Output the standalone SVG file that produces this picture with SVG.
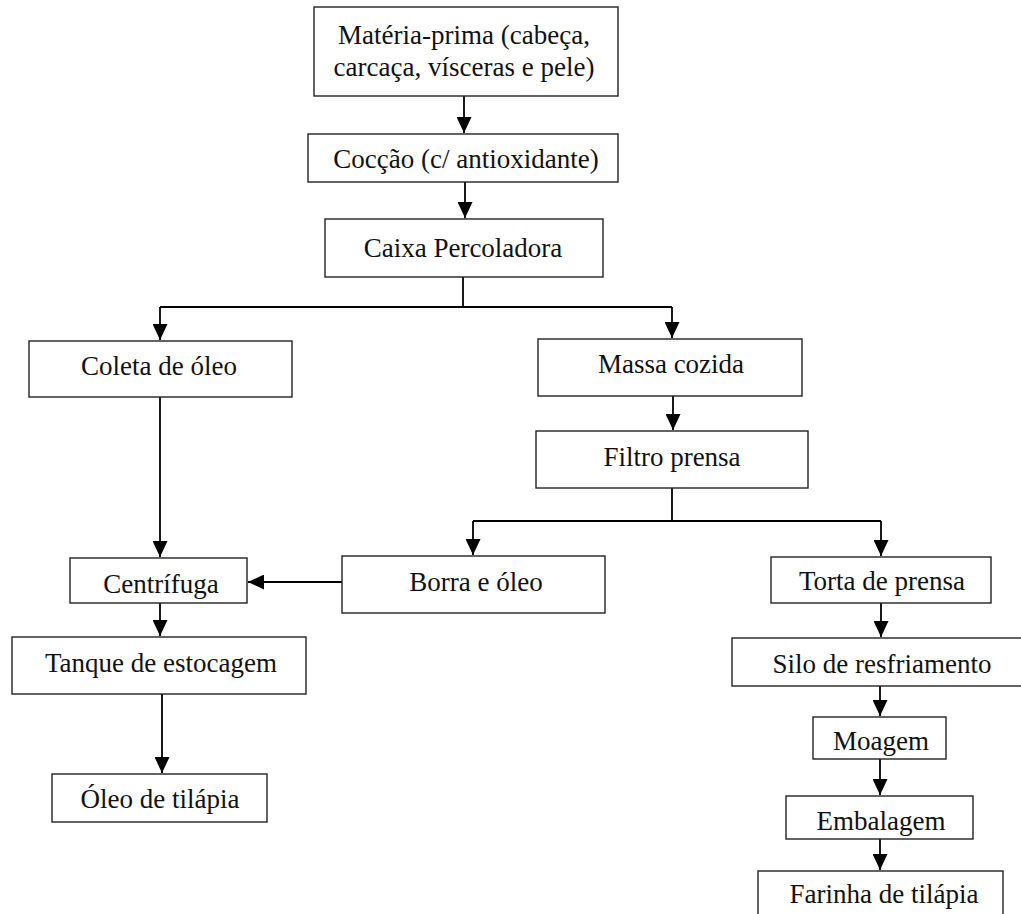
<svg xmlns="http://www.w3.org/2000/svg" width="1021" height="914" viewBox="0 0 1021 914">
  <defs>
    <style>
      .box { fill: #ffffff; stroke: #222222; stroke-width: 1.4; }
      .lbl { font-family: "Liberation Serif", "Times New Roman", serif; font-size: 27px; fill: #111111; text-anchor: middle; }
      .wire { fill: none; stroke: #000000; stroke-width: 1.8; }
      .flow { fill: none; stroke: #000000; stroke-width: 1.8; marker-end: url(#arrow); }
    </style>
    <marker id="arrow" markerUnits="userSpaceOnUse" markerWidth="17" markerHeight="15" refX="16" refY="7.5" orient="auto">
      <path d="M0,0 L16,7.5 L0,15 Z" fill="#000000"/>
    </marker>
  </defs>
  <rect width="1021" height="914" fill="#ffffff"/>

  <!-- connectors -->
  <g id="connectors">
    <line class="flow" x1="464" y1="96" x2="464" y2="133"/>
    <line class="flow" x1="465" y1="182" x2="465" y2="218"/>
    <polyline class="wire" points="463,277 463,307"/>
    <polyline class="wire" points="160,307 672,307"/>
    <line class="flow" x1="160" y1="307" x2="160" y2="340"/>
    <line class="flow" x1="672" y1="307" x2="672" y2="338"/>
    <line class="flow" x1="673" y1="396" x2="673" y2="430"/>
    <polyline class="wire" points="672,488 672,521"/>
    <polyline class="wire" points="473,521 881,521"/>
    <line class="flow" x1="473" y1="521" x2="473" y2="555"/>
    <line class="flow" x1="881" y1="521" x2="881" y2="556"/>
    <line class="flow" x1="160" y1="397" x2="160" y2="557"/>
    <line class="flow" x1="342" y1="582" x2="248" y2="582"/>
    <line class="flow" x1="160" y1="603" x2="160" y2="636"/>
    <line class="flow" x1="162" y1="694" x2="162" y2="773"/>
    <line class="flow" x1="881" y1="603" x2="881" y2="637"/>
    <line class="flow" x1="880" y1="686" x2="880" y2="716"/>
    <line class="flow" x1="880" y1="759" x2="880" y2="795"/>
    <line class="flow" x1="880" y1="839" x2="880" y2="870"/>
  </g>

  <!-- process steps -->
  <g id="materia-prima">
    <rect class="box" x="314" y="7" width="304" height="89"/>
    <text class="lbl" x="464" y="44">Matéria-prima (cabeça,</text>
    <text class="lbl" x="464" y="76">carcaça, vísceras e pele)</text>
  </g>
  <g id="coccao">
    <rect class="box" x="308" y="134" width="310" height="48"/>
    <text class="lbl" x="466" y="168">Cocção (c/ antioxidante)</text>
  </g>
  <g id="caixa-percoladora">
    <rect class="box" x="325" y="219" width="278" height="58"/>
    <text class="lbl" x="463" y="257">Caixa Percoladora</text>
  </g>
  <g id="coleta-oleo">
    <rect class="box" x="29" y="341" width="263" height="56"/>
    <text class="lbl" x="159" y="375">Coleta de óleo</text>
  </g>
  <g id="massa-cozida">
    <rect class="box" x="538" y="339" width="264" height="57"/>
    <text class="lbl" x="671" y="373">Massa cozida</text>
  </g>
  <g id="filtro-prensa">
    <rect class="box" x="536" y="431" width="272" height="57"/>
    <text class="lbl" x="672" y="466">Filtro prensa</text>
  </g>
  <g id="borra-oleo">
    <rect class="box" x="342" y="556" width="263" height="57"/>
    <text class="lbl" x="476" y="591">Borra e óleo</text>
  </g>
  <g id="torta-prensa">
    <rect class="box" x="771" y="557" width="220" height="46"/>
    <text class="lbl" x="882" y="590">Torta de prensa</text>
  </g>
  <g id="centrifuga">
    <rect class="box" x="70" y="558" width="177" height="45"/>
    <text class="lbl" x="161" y="593">Centrífuga</text>
  </g>
  <g id="tanque-estocagem">
    <rect class="box" x="12" y="637" width="294" height="57"/>
    <text class="lbl" x="161" y="672">Tanque de estocagem</text>
  </g>
  <g id="oleo-tilapia">
    <rect class="box" x="52" y="774" width="215" height="48"/>
    <text class="lbl" x="160" y="808">Óleo de tilápia</text>
  </g>
  <g id="silo-resfriamento">
    <rect class="box" x="732" y="638" width="300" height="48"/>
    <text class="lbl" x="882" y="673">Silo de resfriamento</text>
  </g>
  <g id="moagem">
    <rect class="box" x="813" y="717" width="133" height="42"/>
    <text class="lbl" x="881" y="750">Moagem</text>
  </g>
  <g id="embalagem">
    <rect class="box" x="786" y="796" width="187" height="43"/>
    <text class="lbl" x="881" y="830">Embalagem</text>
  </g>
  <g id="farinha-tilapia">
    <rect class="box" x="758" y="871" width="245" height="60"/>
    <text class="lbl" x="884" y="903">Farinha de tilápia</text>
  </g>
</svg>
